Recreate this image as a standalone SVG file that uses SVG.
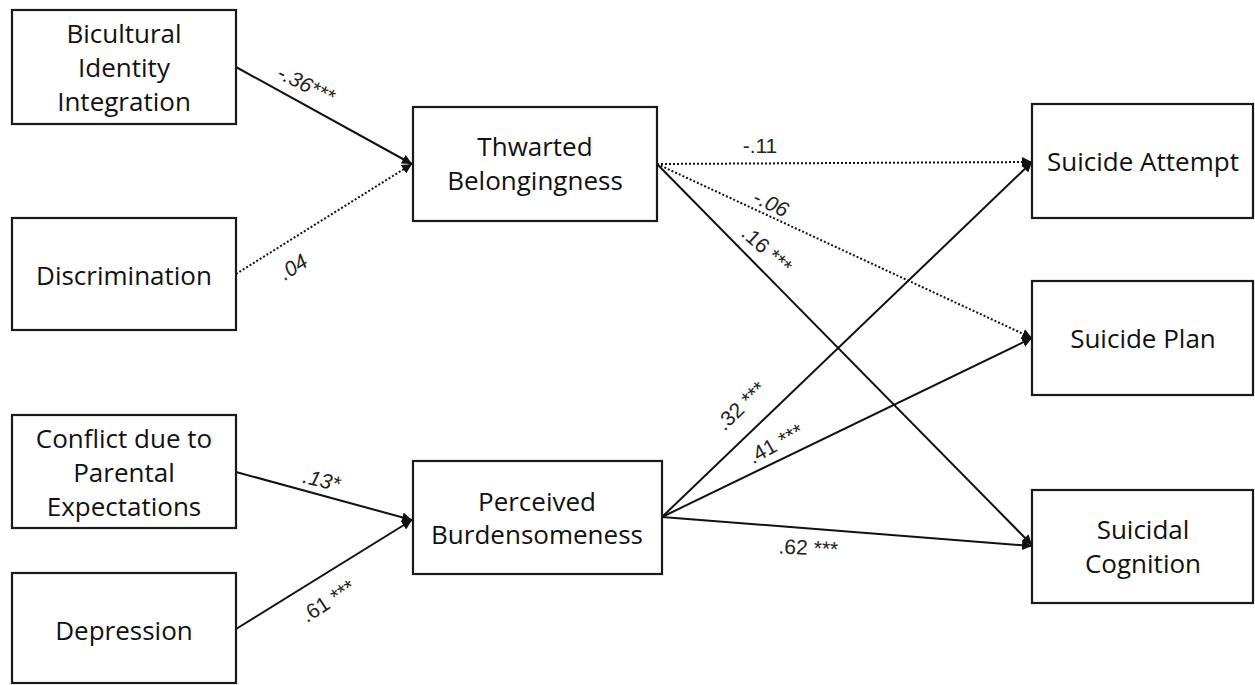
<svg xmlns="http://www.w3.org/2000/svg" width="1255" height="685" viewBox="0 0 1255 685">
<style>
.box{fill:#fff;stroke:#1a1a1a;stroke-width:2.2}
.nt{font-family:"Open Sans","Liberation Sans",sans-serif;font-size:26px;fill:#111;text-anchor:middle}
.el{font-family:"Liberation Sans",Arial,sans-serif;font-size:21px;fill:#222;text-anchor:middle}
.it{font-style:italic}
.sol{stroke:#111;stroke-width:2;fill:none}
.dot{stroke:#111;stroke-width:2;fill:none;stroke-dasharray:2 2}
</style>
<defs>
<marker id="ah" viewBox="0 0 10 10" refX="10" refY="5" markerWidth="5" markerHeight="5" orient="auto" markerUnits="strokeWidth">
<path d="M0,0 L10,5 L0,10 z" fill="#111"/>
</marker>
</defs>
<rect width="1255" height="685" fill="#fff"/>
<g id="connectors">
<line class="sol" x1="236" y1="67" x2="412" y2="164" marker-end="url(#ah)"/>
<line class="dot" x1="236" y1="274" x2="412" y2="164" marker-end="url(#ah)"/>
<line class="dot" x1="657" y1="164" x2="1032" y2="162" marker-end="url(#ah)"/>
<line class="dot" x1="657" y1="164" x2="1032" y2="338" marker-end="url(#ah)"/>
<line class="sol" x1="657" y1="164" x2="1032" y2="545" marker-end="url(#ah)"/>
<line class="sol" x1="662" y1="517" x2="1032" y2="162" marker-end="url(#ah)"/>
<line class="sol" x1="662" y1="517" x2="1032" y2="338" marker-end="url(#ah)"/>
<line class="sol" x1="662" y1="517" x2="1032" y2="546" marker-end="url(#ah)"/>
<line class="sol" x1="236" y1="472" x2="412" y2="520" marker-end="url(#ah)"/>
<line class="sol" x1="236" y1="629" x2="412" y2="520" marker-end="url(#ah)"/>
<text class="el it" transform="translate(303,91) rotate(26)">-.36***</text>
<text class="el it" transform="translate(297,273) rotate(-33)">.04</text>
<text class="el" x="760" y="153">-.11</text>
<text class="el it" transform="translate(768,210) rotate(25)">-.06</text>
<text class="el" transform="translate(762,255) rotate(42)">.16 ***</text>
<text class="el" transform="translate(746,411) rotate(-44)">.32 ***</text>
<text class="el" transform="translate(779,450) rotate(-29)">.41 ***</text>
<text class="el" transform="translate(808,555) rotate(3)">.62 ***</text>
<text class="el it" transform="translate(320,487) rotate(14)">.13*</text>
<text class="el" transform="translate(332,607) rotate(-33)">.61 ***</text>
</g>
<g id="n-bicultural">
<rect class="box" x="12" y="10" width="224" height="114"/>
<text class="nt" x="124" y="43">Bicultural</text>
<text class="nt" x="124" y="77">Identity</text>
<text class="nt" x="124" y="111">Integration</text>
</g>
<g id="n-discrimination">
<rect class="box" x="12" y="218" width="224" height="112"/>
<text class="nt" x="124" y="285">Discrimination</text>
</g>
<g id="n-conflict">
<rect class="box" x="12" y="415" width="224" height="113"/>
<text class="nt" x="124" y="448">Conflict due to</text>
<text class="nt" x="124" y="482">Parental</text>
<text class="nt" x="124" y="516">Expectations</text>
</g>
<g id="n-depression">
<rect class="box" x="12" y="573" width="224" height="110"/>
<text class="nt" x="124" y="640">Depression</text>
</g>
<g id="n-thwarted">
<rect class="box" x="413" y="107" width="244" height="114"/>
<text class="nt" x="535" y="156">Thwarted</text>
<text class="nt" x="535" y="190">Belongingness</text>
</g>
<g id="n-perceived">
<rect class="box" x="413" y="461" width="249" height="113"/>
<text class="nt" x="537" y="511">Perceived</text>
<text class="nt" x="537" y="544">Burdensomeness</text>
</g>
<g id="n-attempt">
<rect class="box" x="1032" y="104" width="221" height="114"/>
<text class="nt" x="1143" y="171">Suicide Attempt</text>
</g>
<g id="n-plan">
<rect class="box" x="1032" y="281" width="221" height="114"/>
<text class="nt" x="1143" y="348">Suicide Plan</text>
</g>
<g id="n-cognition">
<rect class="box" x="1032" y="490" width="221" height="113"/>
<text class="nt" x="1143" y="539">Suicidal</text>
<text class="nt" x="1143" y="573">Cognition</text>
</g>
</svg>
